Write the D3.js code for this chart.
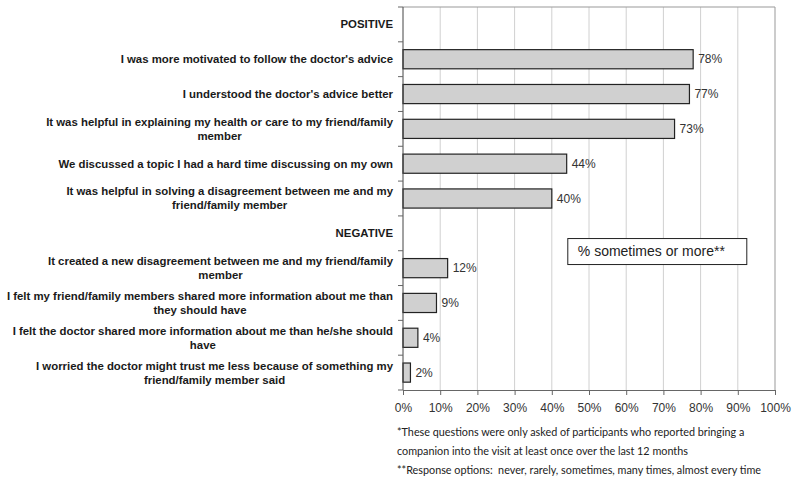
<!DOCTYPE html>
<html>
<head>
<meta charset="utf-8">
<script src="https://d3js.org/d3.v7.min.js"></script>
<style>
  body { margin: 0; background: #fff; }
  .cat { font-family: "Liberation Sans", Arial, sans-serif; font-weight: bold; font-size: 11.4px; fill: #1a1a1a; }
  .val { font-family: "Liberation Sans", Arial, sans-serif; font-size: 12px; fill: #333; }
  .axis text { font-family: "Liberation Sans", Arial, sans-serif; font-size: 12px; fill: #333; }
  .note { font-family: "Lato", "Open Sans", sans-serif; font-size: 10.8px; fill: #222; white-space: pre; }
</style>
</head>
<body>
<svg width="800" height="482"></svg>
<script>
// rows top to bottom; headers have no value
const labels = [
  ["POSITIVE"],
  ["I was more motivated to follow the doctor's advice"],
  ["I understood the doctor's advice better"],
  ["It was helpful in explaining my health or care to my friend/family", "member"],
  ["We discussed a topic I had a hard time discussing on my own"],
  ["It was helpful in solving a disagreement between me and my", "friend/family member"],
  ["NEGATIVE"],
  ["It created a new disagreement between me and my friend/family", "member"],
  ["I felt my friend/family members shared more information about me than", "they should have"],
  ["I felt the doctor shared more information about me than he/she should", "have"],
  ["I worried the doctor might trust me less because of something my", "friend/family member said"]
];
const values = [null, 78, 77, 73, 44, 40, null, 12, 9, 4, 2];
const xTicks = [0, 10, 20, 30, 40, 50, 60, 70, 80, 90, 100];
const legendText = "% sometimes or more**";
const notes = [
  "*These questions were only asked of participants who reported bringing a",
  "companion into the visit at least once over the last 12 months",
  "**Response options:  never, rarely, sometimes, many times, almost every time"
];

const margin = { top: 7, left: 403, right: 25, bottom: 92 };
const width = 800 - margin.left - margin.right;
const height = 482 - margin.top - margin.bottom;

const svg = d3.select("svg").append("g")
  .attr("transform", "translate(" + margin.left + "," + margin.top + ")");

const x = d3.scaleLinear().domain([0, 100]).range([0, width]);
const y = d3.scaleBand().domain(d3.range(labels.length)).range([0, height]).paddingInner(0.45).paddingOuter(0.225);
const rows = d3.scaleLinear().domain([0, labels.length]).range([0, height]);

// gridlines
svg.selectAll(".grid").data(xTicks.slice(1)).enter().append("line")
  .attr("x1", d => x(d)).attr("x2", d => x(d))
  .attr("y1", 0).attr("y2", height)
  .attr("stroke", d => d === 100 ? "#999" : "#d0d0d0");
svg.append("line").attr("x1", 0).attr("x2", width).attr("y1", 0).attr("y2", 0).attr("stroke", "#999");

// bars
const data = values.map((v, i) => ({ i: i, v: v })).filter(d => d.v !== null);
svg.selectAll(".bar").data(data).enter().append("rect")
  .attr("x", 0).attr("y", d => y(d.i))
  .attr("width", d => x(d.v)).attr("height", y.bandwidth())
  .attr("fill", "#d0d0d0").attr("stroke", "#222").attr("stroke-width", 1.2);

svg.selectAll(".val").data(data).enter().append("text")
  .attr("class", "val")
  .attr("x", d => x(d.v) + 5)
  .attr("y", d => y(d.i) + y.bandwidth() / 2)
  .attr("dy", "0.35em")
  .text(d => d.v + "%");

// x axis
const xAxis = svg.append("g").attr("class", "axis")
  .attr("transform", "translate(0," + height + ")")
  .call(d3.axisBottom(x).tickValues(xTicks).tickFormat(d => d + "%").tickSize(5).tickPadding(8));
xAxis.select(".domain").attr("stroke", "#666");
xAxis.selectAll(".tick line").attr("stroke", "#666");

// y axis line with ticks at row boundaries
svg.append("line").attr("x1", 0).attr("x2", 0).attr("y1", 0).attr("y2", height).attr("stroke", "#444");
svg.selectAll(".ytick").data(d3.range(labels.length + 1)).enter().append("line")
  .attr("x1", -5).attr("x2", 0)
  .attr("y1", d => rows(d)).attr("y2", d => rows(d))
  .attr("stroke", "#666");

// category labels: block right-aligned, lines centered in block
const lineH = 14;
labels.forEach((lines, i) => {
  const g = svg.append("g");
  const cy = rows(i + 0.5);
  const texts = lines.map((t, k) => g.append("text").attr("class", "cat")
    .attr("y", cy + (k - (lines.length - 1) / 2) * lineH)
    .attr("dy", "0.35em").attr("text-anchor", "middle").text(t));
  const w = d3.max(texts, t => t.node().getComputedTextLength());
  texts.forEach(t => t.attr("x", -10 - w / 2));
});

// legend box
const lg = svg.append("g").attr("transform", "translate(" + x(44.3) + "," + rows(6.65) + ")");
lg.append("rect").attr("width", 179).attr("height", 26).attr("fill", "#fff").attr("stroke", "#222");
lg.append("text").attr("x", 10).attr("y", 13).attr("dy", "0.35em")
  .style("font-family", "'Liberation Sans', Arial, sans-serif").style("font-size", "14px").attr("fill", "#222")
  .text(legendText);

// footnotes
d3.select("svg").selectAll(".note").data(notes).enter().append("text")
  .attr("class", "note")
  .attr("x", 397)
  .attr("y", (d, i) => 432 + i * 19)
  .attr("dy", "0.35em")
  .text(d => d);
</script>
</body>
</html>
